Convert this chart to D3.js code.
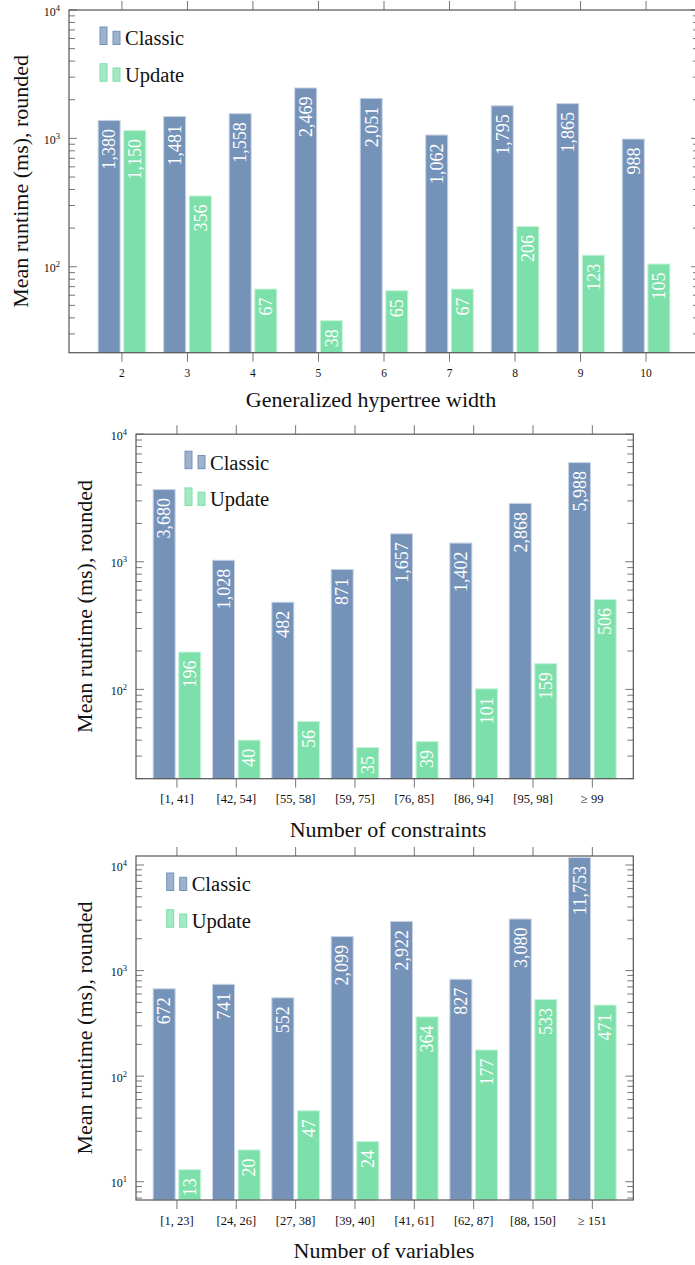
<!DOCTYPE html>
<html>
<head>
<meta charset="utf-8">
<script src="https://d3js.org/d3.v7.min.js"></script>
<style>
  body { margin: 0; background: #fff; }
  svg text { font-family: "Liberation Serif", "DejaVu Serif", serif; }
</style>
</head>
<body>
<svg id="chart" width="695" height="1265"></svg>
<script>
// data
var seriesNames = ["Classic", "Update"];

var gwCats = ["2", "3", "4", "5", "6", "7", "8", "9", "10"];
var gwClassic = [1380, 1481, 1558, 2469, 2051, 1062, 1795, 1865, 988];
var gwUpdate = [1150, 356, 67, 38, 65, 67, 206, 123, 105];

var conCats = ["[1, 41]", "[42, 54]", "[55, 58]", "[59, 75]", "[76, 85]", "[86, 94]", "[95, 98]", "\u2265 99"];
var conClassic = [3680, 1028, 482, 871, 1657, 1402, 2868, 5988];
var conUpdate = [196, 40, 56, 35, 39, 101, 159, 506];

var varCats = ["[1, 23]", "[24, 26]", "[27, 38]", "[39, 40]", "[41, 61]", "[62, 87]", "[88, 150]", "\u2265 151"];
var varClassic = [672, 741, 552, 2099, 2922, 827, 3080, 11753];
var varUpdate = [13, 20, 47, 24, 364, 177, 533, 471];

var colors = ["#7592b9", "#7ddfa9"];
var strokes = ["#c9d4e4", "#c6f2da"];
var fmt = d3.format(",");
var svg = d3.select("#chart");

function drawPanel(p) {
  var g = svg.append("g");
  var x = d3.scalePoint().domain(p.cats).range([p.left, p.right]).padding(p.pad);
  var y = d3.scaleLog().domain(p.yDomain).range([p.bottom, p.top]);

  // bars
  var bw = 22, gap = 1.8;
  [p.classic, p.update].forEach(function(vals, s) {
    var rows = p.cats.map(function(c, i) { return {c: c, v: vals[i]}; });
    var bx = function(d) { return s == 0 ? x(d.c) - gap - bw : x(d.c) + gap; };
    g.selectAll(".bar" + s).data(rows).enter().append("rect")
      .attr("x", bx)
      .attr("y", function(d) { return y(d.v); })
      .attr("width", bw)
      .attr("height", function(d) { return p.bottom - y(d.v); })
      .attr("fill", colors[s])
      .attr("stroke", strokes[s])
      .attr("stroke-width", 1);
    g.selectAll(".lab" + s).data(rows).enter().append("text")
      .attr("transform", function(d) {
        return "translate(" + (bx(d) + bw / 2) + "," + (y(d.v) + 8.5) + ") rotate(-90)";
      })
      .attr("text-anchor", "end")
      .attr("dy", "0.35em")
      .attr("font-size", 18)
      .attr("fill", "#fff")
      .text(function(d) { return fmt(d.v); });
  });

  // y ticks, both sides, inward
  var lo = Math.floor(Math.log10(p.yDomain[0])), hi = Math.ceil(Math.log10(p.yDomain[1]));
  var yt = [];
  for (var k = lo; k <= hi; k++) {
    for (var m = 1; m <= 9; m++) {
      var v = m * Math.pow(10, k);
      if (v >= p.yDomain[0] && v <= p.yDomain[1] * 1.0001) yt.push({v: v, major: m == 1, k: k});
    }
  }
  g.selectAll(".ytl").data(yt).enter().append("line")
    .attr("x1", p.left).attr("x2", function(d) { return p.left + (d.major ? 8 : 6); })
    .attr("y1", function(d) { return y(d.v); }).attr("y2", function(d) { return y(d.v); })
    .attr("stroke", "#777").attr("stroke-width", 1);
  g.selectAll(".ytr").data(yt).enter().append("line")
    .attr("x1", p.right).attr("x2", function(d) { return p.right - (d.major ? 8 : 6); })
    .attr("y1", function(d) { return y(d.v); }).attr("y2", function(d) { return y(d.v); })
    .attr("stroke", "#777").attr("stroke-width", 1);
  var ylab = g.selectAll(".ylab").data(yt.filter(function(d) { return d.major; })).enter()
    .append("text")
    .attr("x", p.left - 9)
    .attr("y", function(d) { return y(d.v) + 5.5; })
    .attr("text-anchor", "end")
    .attr("font-size", 12)
    .attr("fill", "#111");
  ylab.append("tspan").text("10");
  ylab.append("tspan").attr("dy", -5).attr("font-size", 8.5).text(function(d) { return d.k; });

  // x ticks top and bottom, outward
  g.selectAll(".xtb").data(p.cats).enter().append("line")
    .attr("x1", function(d) { return x(d); }).attr("x2", function(d) { return x(d); })
    .attr("y1", p.bottom).attr("y2", p.bottom + 9)
    .attr("stroke", "#777").attr("stroke-width", 1);
  g.selectAll(".xtt").data(p.cats).enter().append("line")
    .attr("x1", function(d) { return x(d); }).attr("x2", function(d) { return x(d); })
    .attr("y1", p.top).attr("y2", p.top - 9)
    .attr("stroke", "#777").attr("stroke-width", 1);
  g.selectAll(".xlab").data(p.cats).enter().append("text")
    .attr("x", function(d) { return x(d); })
    .attr("y", p.bottom + 24.5)
    .attr("text-anchor", "middle")
    .attr("font-size", p.xFont)
    .attr("fill", "#111")
    .text(function(d) { return d; });

  // frame
  g.append("rect")
    .attr("x", p.left).attr("y", p.top)
    .attr("width", p.right - p.left).attr("height", p.bottom - p.top)
    .attr("fill", "none").attr("stroke", "#555").attr("stroke-width", 1.2);

  // axis titles
  g.append("text")
    .attr("transform", "translate(" + p.yTitleX + "," + ((p.top + p.bottom) / 2) + ") rotate(-90)")
    .attr("text-anchor", "middle")
    .attr("dy", "0.35em")
    .attr("font-size", 22)
    .attr("fill", "#111")
    .text("Mean runtime (ms), rounded");
  g.append("text")
    .attr("x", p.xTitleX).attr("y", p.xTitleY)
    .attr("text-anchor", "middle")
    .attr("font-size", 22)
    .attr("fill", "#111")
    .text(p.xTitle);

  // legend
  seriesNames.forEach(function(name, s) {
    var ly = p.top + 17 + s * 36.7;
    var lx = p.left + p.legX;
    g.append("rect").attr("x", lx).attr("y", ly).attr("width", 7).attr("height", 17.5)
      .attr("fill", colors[s]).attr("fill-opacity", 0.7).attr("stroke", colors[s]).attr("stroke-width", 1);
    g.append("rect").attr("x", lx + 13).attr("y", ly + 4.3).attr("width", 7).attr("height", 13.2)
      .attr("fill", colors[s]).attr("fill-opacity", 0.7).attr("stroke", colors[s]).attr("stroke-width", 1);
    g.append("text").attr("x", lx + 25).attr("y", ly + 18.3)
      .attr("font-size", 20.5).attr("fill", "#111").text(name);
  });
}

drawPanel({
  cats: gwCats, classic: gwClassic, update: gwUpdate,
  left: 69, right: 699, top: 10, bottom: 352.7, pad: 0.808,
  yDomain: [21.4, 10000], xFont: 11.5,
  yTitleX: 20, xTitle: "Generalized hypertree width", xTitleX: 371, xTitleY: 407,
  legX: 31
});
drawPanel({
  cats: conCats, classic: conClassic, update: conUpdate,
  left: 136, right: 633.3, top: 434.2, bottom: 778.7, pad: 0.69,
  yDomain: [19.95, 10000], xFont: 12.5,
  yTitleX: 84, xTitle: "Number of constraints", xTitleX: 388, xTitleY: 837,
  legX: 49
});
drawPanel({
  cats: varCats, classic: varClassic, update: varUpdate,
  left: 136, right: 633.3, top: 856, bottom: 1200, pad: 0.69,
  yDomain: [6.71, 12170], xFont: 12.5,
  yTitleX: 84, xTitle: "Number of variables", xTitleX: 384, xTitleY: 1258,
  legX: 30.7
});
</script>
</body>
</html>
